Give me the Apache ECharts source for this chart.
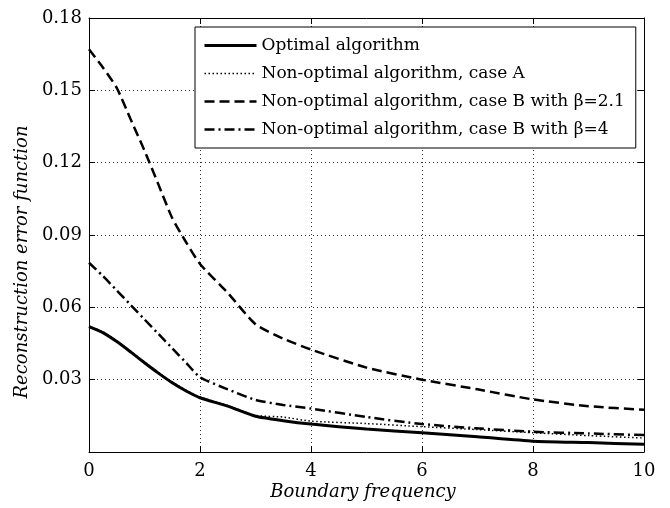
<!DOCTYPE html>
<html>
<head>
<meta charset="utf-8">
<script src="https://cdn.jsdelivr.net/npm/echarts@6/dist/echarts.min.js"></script>
<style>
  html, body { margin: 0; padding: 0; background: #fff; }
  #chart { width: 670px; height: 508px; }
</style>
</head>
<body>
<div id="chart"></div>
<script>
// Boundary frequency samples (x axis)
const freq = [0, 0.25, 0.5, 0.75, 1, 1.25, 1.5, 1.75, 2, 2.5, 3, 3.5, 4, 5, 6, 7, 8, 9, 10];

// Reconstruction error for each algorithm
const optimal  = [0.052, 0.0495, 0.0458, 0.0415, 0.0370, 0.0327, 0.0287, 0.0253, 0.0225, 0.0190, 0.0148, 0.0130, 0.0116, 0.0095, 0.0080, 0.0063, 0.0045, 0.0039, 0.0032];
const caseA    = [0.0523, 0.0498, 0.0461, 0.0418, 0.0373, 0.0330, 0.0290, 0.0256, 0.0228, 0.0193, 0.0152, 0.0145, 0.0128, 0.0118, 0.0105, 0.0093, 0.0080, 0.0068, 0.0058];
const caseB21  = [0.167, 0.1595, 0.151, 0.138, 0.125, 0.111, 0.097, 0.087, 0.078, 0.066, 0.053, 0.047, 0.0425, 0.035, 0.030, 0.026, 0.0218, 0.019, 0.0175];
const caseB4   = [0.0785, 0.073, 0.067, 0.061, 0.055, 0.049, 0.043, 0.037, 0.031, 0.026, 0.0216, 0.0195, 0.018, 0.0145, 0.0116, 0.0098, 0.0084, 0.0077, 0.0070];

const seriesNames = [
  'Optimal algorithm',
  'Non-optimal algorithm, case A',
  'Non-optimal algorithm, case B with \u03b2=2.1',
  'Non-optimal algorithm, case B with \u03b2=4'
];

// Annotation placed in data coordinates
const annotation = { text: 'N=8', x: 0.97, y: 0.0124 };

const serif = 'DejaVu Serif';
const clear = 'rgba(0,0,0,0)';

function pairs(ys) { return freq.map((x, i) => [x, ys[i]]); }

const chart = echarts.init(document.getElementById('chart'), null, { renderer: 'canvas' });

const lineSeries = (name, ys, style, z) => ({
  name: name,
  type: 'line',
  data: pairs(ys),
  showSymbol: false,
  symbol: 'none',
  smooth: 0.2,
  z: z,
  lineStyle: Object.assign({ color: '#000' }, style),
  itemStyle: { color: '#000' },
  animation: false
});

const option = {
  backgroundColor: '#fff',
  animation: false,
  grid: { left: 89, top: 18, right: 26, bottom: 56, containLabel: false },
  legend: {
    orient: 'vertical',
    left: 195,
    top: 27,
    backgroundColor: '#fff',
    borderColor: '#000',
    borderWidth: 1,
    borderRadius: 0,
    padding: [10, 11, 10, 8],
    itemWidth: 52,
    itemHeight: 16,
    itemGap: 11,
    selectedMode: false,
    // line samples only, no point markers
    itemStyle: { color: clear, borderColor: clear, borderWidth: 0 },
    lineStyle: { width: 'inherit' },
    textStyle: { fontFamily: serif, fontSize: 17, lineHeight: 16, color: '#000' },
    data: seriesNames
  },
  xAxis: [{
    type: 'value', min: 0, max: 10, interval: 2,
    axisLine: { show: true, onZero: false, lineStyle: { color: '#000', width: 1 } },
    axisTick: { show: true, inside: true, length: 6, lineStyle: { color: '#000' } },
    axisLabel: { fontFamily: serif, fontSize: 18, color: '#000', margin: 10 },
    splitLine: { show: true, lineStyle: { color: '#333', width: 1, type: [1, 3] } }
  }, {
    type: 'value', min: 0, max: 10, interval: 2, position: 'top',
    axisLine: { show: true, onZero: false, lineStyle: { color: '#000', width: 1 } },
    axisTick: { show: true, inside: true, length: 6, lineStyle: { color: '#000' } },
    axisLabel: { show: false },
    splitLine: { show: false }
  }],
  yAxis: [{
    type: 'value', min: 0, max: 0.18, interval: 0.03,
    axisLine: { show: true, onZero: false, lineStyle: { color: '#000', width: 1 } },
    axisTick: { show: true, inside: true, length: 6, lineStyle: { color: '#000' } },
    axisLabel: { fontFamily: serif, fontSize: 18, color: '#000', margin: 7,
      formatter: v => v === 0 ? '' : v.toFixed(2) },
    splitLine: { show: true, lineStyle: { color: '#333', width: 1, type: [1, 3] } }
  }, {
    type: 'value', min: 0, max: 0.18, interval: 0.03, position: 'right',
    axisLine: { show: true, onZero: false, lineStyle: { color: '#000', width: 1 } },
    axisTick: { show: true, inside: true, length: 6, lineStyle: { color: '#000' } },
    axisLabel: { show: false },
    splitLine: { show: false }
  }],
  graphic: [{
    type: 'text',
    x: 363, y: 492,
    style: { text: 'Boundary frequency', font: 'italic 18px "DejaVu Serif"', fill: '#000',
      align: 'center', verticalAlign: 'middle' }
  }, {
    type: 'text',
    x: 22, y: 262,
    rotation: Math.PI / 2,
    style: { text: 'Reconstruction error function', font: 'italic 18px "DejaVu Serif"', fill: '#000',
      align: 'center', verticalAlign: 'middle' }
  }],
  series: [
    Object.assign(lineSeries(seriesNames[0], optimal, { width: 3, type: 'solid' }, 5), {
      markPoint: {
        symbol: 'none',
        silent: true,
        data: [{ coord: [annotation.x, annotation.y], value: annotation.text }],
        label: { show: true, position: 'inside', formatter: annotation.text,
          fontFamily: serif, fontSize: 17, color: '#000' }
      }
    }),
    lineSeries(seriesNames[1], caseA, { width: 1.5, type: [1.5, 2.5] }, 4),
    lineSeries(seriesNames[2], caseB21, { width: 2.5, type: [10, 5] }, 3),
    lineSeries(seriesNames[3], caseB4, { width: 2.5, type: [10, 4, 2, 4] }, 3)
  ]
};

chart.setOption(option);
</script>
</body>
</html>
